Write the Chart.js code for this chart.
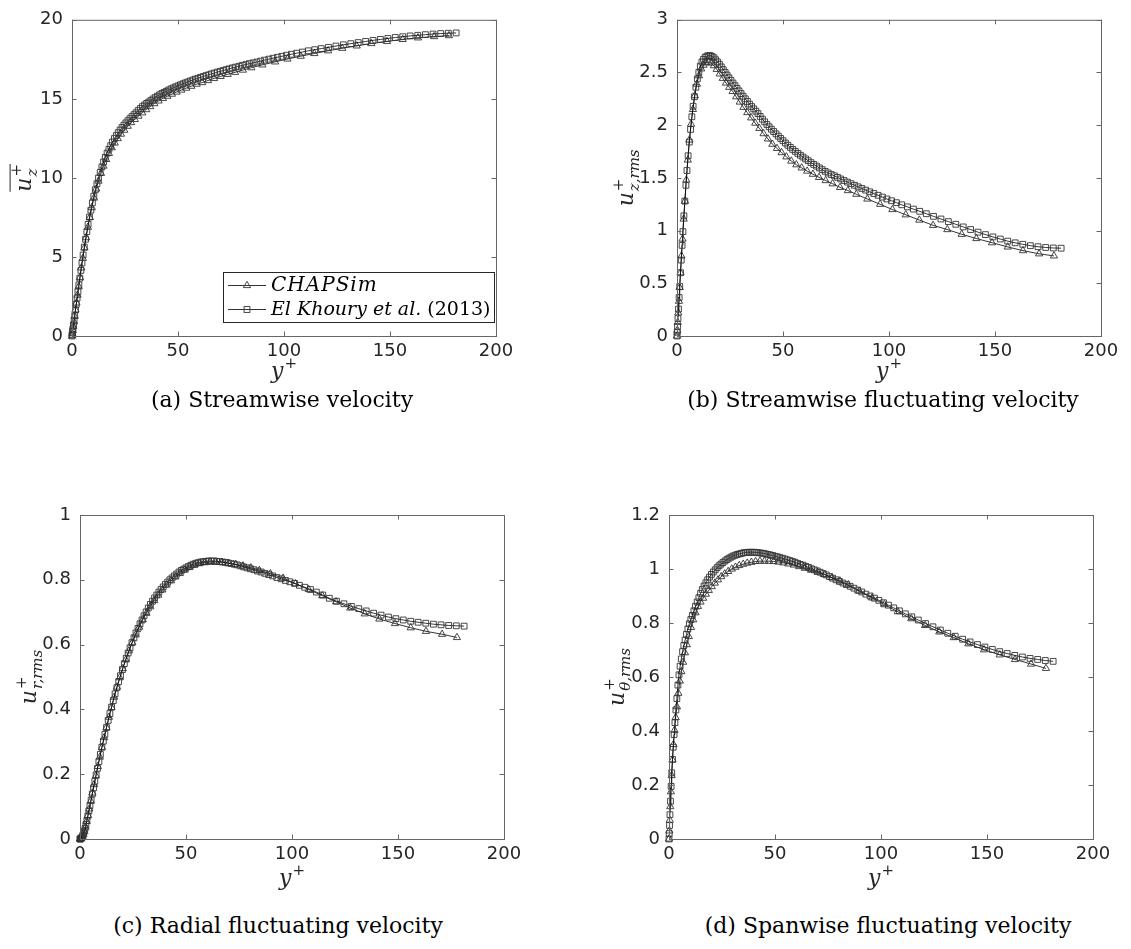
<!DOCTYPE html>
<html><head><meta charset="utf-8">
<script src="https://cdn.jsdelivr.net/npm/chart.js@4/dist/chart.umd.min.js"></script>
<style>
html,body{margin:0;padding:0;background:#fff;}
body{width:1131px;height:949px;position:relative;overflow:hidden;}
canvas{position:absolute;display:block;}
.cap{position:absolute;font-family:"DejaVu Serif",serif;font-size:22px;color:#000;white-space:nowrap;transform:translate(-50%,-50%);}
</style></head><body>
<canvas id="ca" width="560" height="395" style="left:0;top:0"></canvas>
<canvas id="cb" width="566" height="395" style="left:565px;top:0"></canvas>
<canvas id="cc" width="560" height="455" style="left:0;top:440px"></canvas>
<canvas id="cd" width="566" height="455" style="left:565px;top:440px"></canvas>
<div class="cap" style="left:282px;top:399px">(a) Streamwise velocity</div>
<div class="cap" style="left:883px;top:399px">(b) Streamwise fluctuating velocity</div>
<div class="cap" style="left:278px;top:925px">(c) Radial fluctuating velocity</div>
<div class="cap" style="left:888px;top:925px">(d) Spanwise fluctuating velocity</div>
<script>
// ---------- data ----------
const seriesNames = ['CHAPSim', 'El Khoury et al.', '(2013)'];
const xTicks = [0, 50, 100, 150, 200];
const yTicksA = [0, 5, 10, 15, 20];
const yTicksB = [0, 0.5, 1, 1.5, 2, 2.5, 3];
const yTicksC = [0, 0.2, 0.4, 0.6, 0.8, 1];
const yTicksD = [0, 0.2, 0.4, 0.6, 0.8, 1, 1.2];

const yPlusCHAPSim = [0, 0.15, 0.35, 0.6, 0.9, 1.25, 1.65, 2.1, 2.6, 3.15,
  3.75, 4.4, 5.1, 5.85, 6.65, 7.5, 8.4, 9.35, 10.35, 11.4,
  12.5, 13.65, 14.85, 16.1, 17.4, 18.75, 20.15, 21.6, 23.1, 24.65,
  26.25, 27.9, 29.6, 31.35, 33.15, 35.0, 36.9, 38.85, 40.85, 42.9,
  45.0, 47.15, 49.35, 51.6, 53.9, 56.3, 58.8, 61.4, 64.1, 67.0,
  70.1, 73.4, 76.9, 80.6, 84.6, 89.8, 95.8, 101.6, 107.9, 114.3,
  120.8, 127.5, 134.3, 141.2, 148.6, 156.0, 163.2, 170.8, 177.8];
const yPlusElKhoury = [0, 0.1, 0.25, 0.45, 0.7, 1.0, 1.3, 1.65, 2.0, 2.4,
  2.8, 3.25, 3.7, 4.2, 4.7, 5.25, 5.8, 6.4, 7.0, 7.6,
  8.25, 8.9, 9.6, 10.3, 11.0, 11.75, 12.5, 13.3, 14.1, 14.9,
  15.7, 16.55, 17.4, 18.25, 19.1, 20.0, 20.9, 21.8, 22.7, 23.6,
  24.5, 25.45, 26.4, 27.35, 28.3, 29.25, 30.2, 31.2, 32.2, 33.2,
  34.2, 35.2, 36.2, 37.2, 38.2, 39.25, 40.3, 41.35, 42.4, 43.45,
  44.5, 45.6, 46.7, 47.8, 48.9, 50.0, 51.15, 52.3, 53.45, 54.6,
  55.8, 57.0, 58.2, 59.4, 60.65, 61.9, 63.2, 64.5, 65.8, 67.15,
  68.5, 69.9, 71.3, 72.75, 74.2, 75.7, 77.2, 78.8, 80.4, 82.05,
  83.7, 85.45, 87.2, 89.0, 90.9, 92.85, 94.85, 96.9, 99.0, 101.2,
  103.5, 106.0, 108.7, 111.5, 114.5, 117.6, 121.0, 124.5, 128.0, 131.5,
  135.0, 138.5, 142.0, 145.5, 149.0, 152.5, 156.0, 159.5, 163.1, 166.7,
  170.3, 173.9, 177.5, 181.2];

// (a) mean streamwise velocity
const uzMeanCHAPSim = [0, 0.15, 0.35, 0.6, 0.9, 1.25, 1.65, 2.09, 2.59, 3.12,
  3.7, 4.31, 4.92, 5.58, 6.22, 6.88, 7.5, 8.12, 8.73, 9.3,
  9.8, 10.29, 10.75, 11.17, 11.55, 11.91, 12.21, 12.49, 12.77, 13.02,
  13.27, 13.5, 13.7, 13.91, 14.12, 14.32, 14.51, 14.7, 14.87, 15.03,
  15.17, 15.3, 15.43, 15.56, 15.68, 15.8, 15.93, 16.03, 16.16, 16.29,
  16.42, 16.55, 16.68, 16.82, 16.97, 17.15, 17.34, 17.52, 17.7, 17.87,
  18.04, 18.2, 18.35, 18.5, 18.63, 18.76, 18.86, 18.94, 19.0];
const uzMeanElKhoury = [0, 0.1, 0.25, 0.45, 0.7, 1.0, 1.3, 1.65, 2.0, 2.4,
  2.8, 3.23, 3.66, 4.15, 4.62, 5.12, 5.62, 6.12, 6.6, 7.06,
  7.52, 7.96, 8.42, 8.84, 9.25, 9.63, 9.99, 10.35, 10.69, 11.01,
  11.3, 11.57, 11.81, 12.04, 12.27, 12.49, 12.68, 12.86, 13.03, 13.19,
  13.34, 13.48, 13.62, 13.75, 13.88, 14.0, 14.12, 14.26, 14.39, 14.51,
  14.61, 14.71, 14.8, 14.89, 14.99, 15.08, 15.17, 15.26, 15.34, 15.41,
  15.48, 15.56, 15.63, 15.69, 15.76, 15.82, 15.89, 15.95, 16.01, 16.07,
  16.13, 16.19, 16.25, 16.3, 16.36, 16.41, 16.47, 16.52, 16.58, 16.63,
  16.69, 16.74, 16.79, 16.85, 16.9, 16.96, 17.01, 17.06, 17.12, 17.17,
  17.23, 17.28, 17.33, 17.39, 17.45, 17.51, 17.57, 17.63, 17.69, 17.76,
  17.82, 17.89, 17.96, 18.04, 18.11, 18.18, 18.26, 18.34, 18.42, 18.49,
  18.56, 18.63, 18.7, 18.76, 18.82, 18.88, 18.93, 18.98, 19.02, 19.06,
  19.1, 19.13, 19.15, 19.17];

// (b) streamwise rms
const uzRmsCHAPSim = [0, 0.055, 0.13, 0.22, 0.33, 0.46, 0.6, 0.76, 0.92, 1.11,
  1.28, 1.48, 1.67, 1.86, 2.01, 2.15, 2.28, 2.39, 2.47, 2.535,
  2.57, 2.593, 2.6, 2.59, 2.565, 2.53, 2.487, 2.445, 2.4, 2.36,
  2.32, 2.27, 2.22, 2.17, 2.12, 2.07, 2.02, 1.97, 1.92, 1.87,
  1.82, 1.78, 1.74, 1.7, 1.66, 1.625, 1.595, 1.565, 1.535, 1.505,
  1.475, 1.445, 1.41, 1.38, 1.345, 1.3, 1.25, 1.2, 1.15, 1.1,
  1.05, 1.01, 0.965, 0.925, 0.885, 0.845, 0.81, 0.78, 0.76];
const uzRmsElKhoury = [0, 0.036, 0.09, 0.165, 0.255, 0.365, 0.47, 0.6, 0.72, 0.86,
  0.99, 1.14, 1.28, 1.43, 1.57, 1.71, 1.84, 1.96, 2.08, 2.18,
  2.27, 2.36, 2.44, 2.5, 2.56, 2.6, 2.625, 2.645, 2.655, 2.66,
  2.66, 2.652, 2.64, 2.621, 2.6, 2.578, 2.553, 2.527, 2.502, 2.476,
  2.45, 2.426, 2.4, 2.375, 2.35, 2.325, 2.3, 2.275, 2.25, 2.225,
  2.2, 2.177, 2.155, 2.133, 2.11, 2.083, 2.057, 2.032, 2.007, 1.985,
  1.962, 1.94, 1.918, 1.896, 1.874, 1.853, 1.831, 1.81, 1.79, 1.77,
  1.752, 1.733, 1.715, 1.698, 1.68, 1.663, 1.645, 1.628, 1.612, 1.595,
  1.578, 1.562, 1.547, 1.532, 1.52, 1.505, 1.49, 1.475, 1.46, 1.445,
  1.43, 1.415, 1.4, 1.384, 1.368, 1.352, 1.335, 1.318, 1.3, 1.283,
  1.265, 1.245, 1.225, 1.204, 1.183, 1.16, 1.135, 1.11, 1.085, 1.06,
  1.035, 1.01, 0.985, 0.962, 0.94, 0.92, 0.9, 0.884, 0.87, 0.857,
  0.847, 0.84, 0.835, 0.833];

// (c) radial rms
const urRmsCHAPSim = [0, 0.0003, 0.001, 0.0025, 0.005, 0.009, 0.015, 0.023, 0.037, 0.054,
  0.073, 0.093, 0.117, 0.142, 0.168, 0.195, 0.224, 0.253, 0.283, 0.313,
  0.344, 0.376, 0.406, 0.438, 0.469, 0.498, 0.526, 0.553, 0.581, 0.606,
  0.63, 0.654, 0.677, 0.697, 0.717, 0.736, 0.753, 0.769, 0.784, 0.797,
  0.809, 0.82, 0.83, 0.838, 0.845, 0.85, 0.853, 0.855, 0.855, 0.854,
  0.851, 0.848, 0.843, 0.837, 0.829, 0.819, 0.805, 0.788, 0.77, 0.751,
  0.732, 0.713, 0.695, 0.679, 0.665, 0.652, 0.641, 0.632, 0.622];
const urRmsElKhoury = [0, 0.0001, 0.0004, 0.0015, 0.0035, 0.0065, 0.011, 0.018, 0.025, 0.033,
  0.045, 0.057, 0.071, 0.087, 0.103, 0.12, 0.139, 0.158, 0.178, 0.198,
  0.218, 0.239, 0.261, 0.283, 0.302, 0.323, 0.344, 0.366, 0.387, 0.407,
  0.427, 0.448, 0.467, 0.486, 0.504, 0.523, 0.541, 0.558, 0.574, 0.59,
  0.606, 0.621, 0.636, 0.65, 0.664, 0.676, 0.689, 0.701, 0.713, 0.724,
  0.734, 0.744, 0.753, 0.762, 0.77, 0.778, 0.786, 0.793, 0.8, 0.806,
  0.812, 0.818, 0.824, 0.829, 0.833, 0.837, 0.841, 0.845, 0.848, 0.851,
  0.853, 0.855, 0.856, 0.857, 0.858, 0.858, 0.858, 0.857, 0.856, 0.855,
  0.854, 0.852, 0.85, 0.848, 0.846, 0.843, 0.84, 0.837, 0.834, 0.831,
  0.827, 0.824, 0.82, 0.816, 0.812, 0.807, 0.803, 0.798, 0.794, 0.789,
  0.783, 0.777, 0.77, 0.762, 0.753, 0.743, 0.734, 0.726, 0.718, 0.711,
  0.704, 0.697, 0.691, 0.685, 0.68, 0.676, 0.672, 0.669, 0.666, 0.663,
  0.661, 0.659, 0.658, 0.657];

// (d) spanwise rms
const utRmsCHAPSim = [0, 0.03, 0.07, 0.12, 0.175, 0.235, 0.293, 0.35, 0.403, 0.45,
  0.49, 0.54, 0.585, 0.62, 0.655, 0.69, 0.72, 0.75, 0.784, 0.812,
  0.838, 0.861, 0.878, 0.892, 0.907, 0.921, 0.935, 0.948, 0.96, 0.972,
  0.982, 0.991, 1.0, 1.007, 1.013, 1.018, 1.022, 1.025, 1.028, 1.029,
  1.029, 1.029, 1.028, 1.026, 1.023, 1.019, 1.015, 1.009, 1.003, 0.996,
  0.988, 0.979, 0.968, 0.956, 0.942, 0.918, 0.893, 0.868, 0.842, 0.816,
  0.791, 0.767, 0.746, 0.723, 0.701, 0.682, 0.665, 0.648, 0.632];
const utRmsElKhoury = [0, 0.02, 0.05, 0.09, 0.14, 0.195, 0.245, 0.295, 0.34, 0.387,
  0.431, 0.478, 0.52, 0.57, 0.608, 0.64, 0.667, 0.694, 0.717, 0.737,
  0.758, 0.778, 0.797, 0.813, 0.828, 0.845, 0.862, 0.878, 0.894, 0.91,
  0.924, 0.937, 0.949, 0.96, 0.97, 0.98, 0.989, 0.997, 1.005, 1.012,
  1.018, 1.024, 1.03, 1.035, 1.04, 1.044, 1.048, 1.051, 1.054, 1.056,
  1.058, 1.06, 1.061, 1.062, 1.062, 1.062, 1.062, 1.061, 1.06, 1.059,
  1.058, 1.056, 1.054, 1.052, 1.05, 1.047, 1.045, 1.042, 1.04, 1.037,
  1.034, 1.031, 1.028, 1.025, 1.021, 1.017, 1.014, 1.01, 1.006, 1.001,
  0.997, 0.993, 0.988, 0.983, 0.978, 0.972, 0.966, 0.96, 0.954, 0.948,
  0.942, 0.936, 0.929, 0.922, 0.915, 0.907, 0.9, 0.892, 0.884, 0.875,
  0.866, 0.856, 0.845, 0.834, 0.823, 0.811, 0.798, 0.786, 0.774, 0.762,
  0.751, 0.74, 0.73, 0.72, 0.711, 0.702, 0.694, 0.687, 0.68, 0.674,
  0.669, 0.665, 0.661, 0.658];

// ---------- drawing helpers ----------
const TXT = '#262626';
const AXC = '#666666';
const MK = '#333333';
const MF = '"DejaVu Serif", serif';

function drawMath(ctx, m, cx, cy, rotate) {
  ctx.save();
  ctx.translate(cx, cy);
  if (rotate) ctx.rotate(-Math.PI / 2);
  ctx.fillStyle = TXT;
  ctx.strokeStyle = TXT;
  ctx.textBaseline = 'alphabetic';
  ctx.textAlign = 'left';
  ctx.font = `italic ${m.size}px ${MF}`;
  const wb = ctx.measureText(m.base).width;
  ctx.font = `italic ${m.small}px ${MF}`;
  const wsub = m.sub ? ctx.measureText(m.sub).width : 0;
  ctx.font = `${m.small}px ${MF}`;
  const wsup = m.sup ? ctx.measureText(m.sup).width : 0;
  const total = wb + 1 + Math.max(wsub, wsup);
  const x0 = -total / 2;
  const bl = m.baseline;
  ctx.font = `italic ${m.size}px ${MF}`;
  ctx.fillText(m.base, x0, bl);
  if (m.sup) { ctx.font = `${m.small}px ${MF}`; ctx.fillText(m.sup, x0 + wb + 1, bl - m.size * 0.45); }
  if (m.sub) { ctx.font = `italic ${m.small}px ${MF}`; ctx.fillText(m.sub, x0 + wb + 1, bl + m.size * 0.28); }
  if (m.over) {
    ctx.lineWidth = 1;
    ctx.beginPath();
    const yo = bl - m.size * 0.95;
    ctx.moveTo(x0, yo); ctx.lineTo(x0 + total, yo); ctx.stroke();
  }
  ctx.restore();
}

function drawTri(ctx, x, y, r) {
  ctx.beginPath();
  ctx.moveTo(x, y - r);
  ctx.lineTo(x + r * 0.866, y + r * 0.5);
  ctx.lineTo(x - r * 0.866, y + r * 0.5);
  ctx.closePath(); ctx.stroke();
}
function drawSq(ctx, x, y, h) { ctx.strokeRect(x - h, y - h, 2 * h, 2 * h); }

const framePlugin = {
  id: 'frame',
  afterDraw(chart, args, opts) {
    const { ctx, chartArea: a, scales: { x, y } } = chart;
    ctx.save();
    ctx.strokeStyle = AXC; ctx.lineWidth = 1;
    ctx.strokeRect(a.left + 0.5, a.top + 0.5, a.right - a.left, a.bottom - a.top);
    ctx.beginPath();
    const tl = 4.5;
    x.ticks.forEach(t => {
      const px = Math.round(x.getPixelForValue(t.value)) + 0.5;
      ctx.moveTo(px, a.bottom); ctx.lineTo(px, a.bottom - tl);
      ctx.moveTo(px, a.top); ctx.lineTo(px, a.top + tl);
    });
    y.ticks.forEach(t => {
      const py = Math.round(y.getPixelForValue(t.value)) + 0.5;
      ctx.moveTo(a.left, py); ctx.lineTo(a.left + tl, py);
      ctx.moveTo(a.right, py); ctx.lineTo(a.right - tl, py);
    });
    ctx.stroke();
    ctx.restore();
    // axis titles
    drawMath(ctx, { base: 'y', sup: '+', size: 22, small: 15, baseline: 4 }, (a.left + a.right) / 2, a.bottom + opts.xTitleOff, false);
    drawMath(ctx, opts.ylab, opts.yTitleX, (a.top + a.bottom) / 2, true);
    // legend
    if (opts.legend) {
      const L = opts.legend;
      ctx.save();
      ctx.fillStyle = '#fff';
      ctx.fillRect(L.x, L.y, L.w, L.h);
      ctx.strokeStyle = TXT; ctx.lineWidth = 1;
      ctx.strokeRect(L.x + 0.5, L.y + 0.5, L.w, L.h);
      const rows = [L.y + 13, L.y + 37];
      ctx.strokeStyle = '#000'; ctx.lineWidth = 0.8;
      rows.forEach(ry => { ctx.beginPath(); ctx.moveTo(L.x + 5, ry + 0.5); ctx.lineTo(L.x + 43, ry + 0.5); ctx.stroke(); });
      ctx.strokeStyle = MK; ctx.lineWidth = 0.9;
      drawTri(ctx, L.x + 24, rows[0] + 0.5, 4.2);
      drawSq(ctx, L.x + 24, rows[1] + 0.5, 2.9);
      ctx.fillStyle = '#000';
      ctx.textBaseline = 'middle';
      ctx.font = `italic 20px ${MF}`;
      ctx.letterSpacing = '1px';
      ctx.fillText(seriesNames[0], L.x + 48, rows[0] + 1);
      ctx.letterSpacing = '0px';
      ctx.font = `italic 19px ${MF}`;
      ctx.fillText(seriesNames[1], L.x + 48, rows[1] + 1);
      const w1 = ctx.measureText(seriesNames[1] + ' ').width;
      ctx.font = `19px ${MF}`;
      ctx.fillText(seriesNames[2], L.x + 48 + w1, rows[1] + 1);
      ctx.restore();
    }
  }
};

function pts(xs, ys) { return xs.map((v, i) => ({ x: v, y: ys[i] })); }

function makeChart(id, cfg) {
  const cv = document.getElementById(id);
  const W = cv.width, H = cv.height;
  const A = cfg.area;
  return new Chart(cv, {
    type: 'scatter',
    data: {
      datasets: [
        { label: seriesNames[0], data: pts(yPlusCHAPSim, cfg.chap), showLine: true,
          borderColor: '#000', borderWidth: 0.8, pointStyle: 'triangle', pointRadius: 4.2,
          pointBorderColor: MK, pointBorderWidth: 0.9, pointBackgroundColor: 'rgba(0,0,0,0)',
          clip: false, order: 1 },
        { label: seriesNames[1] + ' ' + seriesNames[2], data: pts(yPlusElKhoury, cfg.ek), showLine: true,
          borderColor: '#000', borderWidth: 0.8, pointStyle: 'rect', pointRadius: 4.1,
          pointBorderColor: MK, pointBorderWidth: 0.9, pointBackgroundColor: 'rgba(0,0,0,0)',
          clip: false, order: 0 }
      ]
    },
    options: {
      responsive: false, animation: false, events: [],
      layout: { padding: { left: 0, top: A.top, right: W - A.right, bottom: 0 } },
      plugins: { legend: { display: false }, tooltip: { enabled: false },
        frame: { ylab: cfg.ylab, yTitleX: cfg.yTitleX, xTitleOff: cfg.xTitleOff, legend: cfg.legend } },
      scales: {
        x: { type: 'linear', min: 0, max: 200,
          afterBuildTicks: s => { s.ticks = xTicks.map(v => ({ value: v })); },
          afterFit: s => { s.height = H - A.bottom; },
          grid: { display: false, drawTicks: false }, border: { display: false },
          ticks: { color: TXT, font: { family: 'DejaVu Sans', size: 18 }, padding: 5, maxRotation: 0, autoSkip: false,
            callback: v => String(v) } },
        y: { type: 'linear', min: cfg.yTicks[0], max: cfg.yTicks[cfg.yTicks.length - 1],
          afterBuildTicks: s => { s.ticks = cfg.yTicks.map(v => ({ value: v })); },
          afterFit: s => { s.width = A.left; },
          grid: { display: false, drawTicks: false }, border: { display: false },
          ticks: { color: TXT, font: { family: 'DejaVu Sans', size: 18 }, padding: 9, autoSkip: false,
            callback: v => String(+Number(v).toFixed(2)) } }
      }
    },
    plugins: [framePlugin]
  });
}

makeChart('ca', { area: { left: 72, top: 12, right: 496, bottom: 336 }, chap: uzMeanCHAPSim, ek: uzMeanElKhoury,
  yTicks: yTicksA, yTitleX: 24, xTitleOff: 38,
  ylab: { base: 'u', sup: '+', sub: 'z', size: 22, small: 15, baseline: 7, over: true },
  legend: { x: 223, y: 272, w: 271, h: 50 } });
makeChart('cb', { area: { left: 112, top: 12, right: 536, bottom: 336 }, chap: uzRmsCHAPSim, ek: uzRmsElKhoury,
  yTicks: yTicksB, yTitleX: 61, xTitleOff: 38,
  ylab: { base: 'u', sup: '+', sub: 'z,rms', size: 22, small: 15, baseline: 7 } });
makeChart('cc', { area: { left: 80, top: 75, right: 504, bottom: 399 }, chap: urRmsCHAPSim, ek: urRmsElKhoury,
  yTicks: yTicksC, yTitleX: 29, xTitleOff: 42,
  ylab: { base: 'u', sup: '+', sub: 'r,rms', size: 22, small: 15, baseline: 7 } });
makeChart('cd', { area: { left: 104, top: 75, right: 528, bottom: 399 }, chap: utRmsCHAPSim, ek: utRmsElKhoury,
  yTicks: yTicksD, yTitleX: 52, xTitleOff: 42,
  ylab: { base: 'u', sup: '+', sub: 'θ,rms', size: 22, small: 15, baseline: 7 } });
</script>
</body></html>
